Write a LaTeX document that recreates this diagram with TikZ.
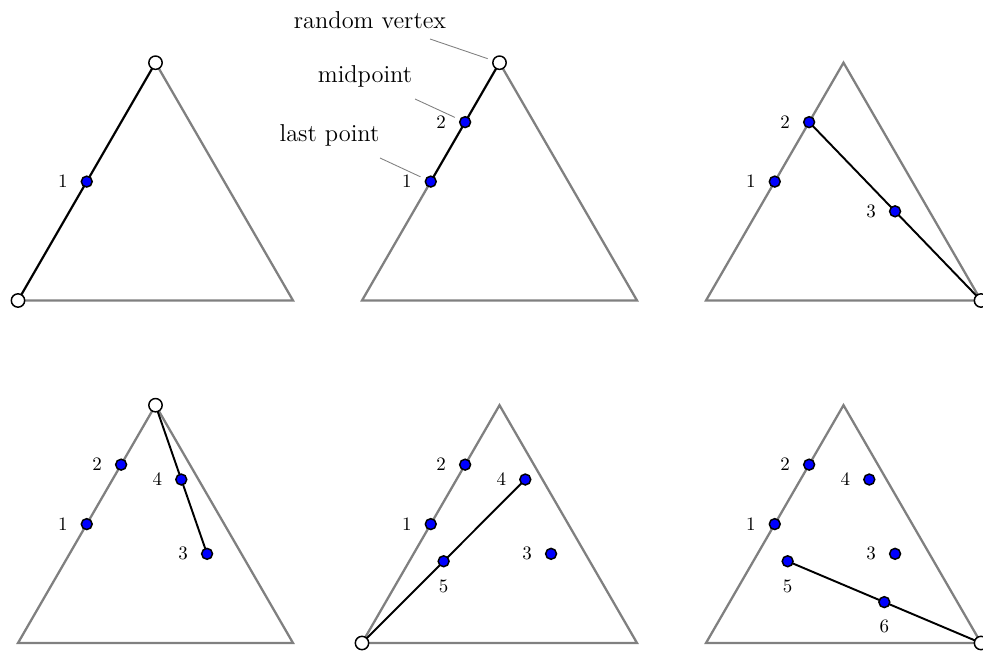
\documentclass[tikz,border=0pt]{standalone}
\usetikzlibrary{calc}
\pgfdeclarelayer{background}
\pgfsetlayers{background,main}
\newcommand\mktri[3]{%
  \coordinate (#1L) at ({18+#2},{300.5+#3});
  \coordinate (#1A) at ({155.5+#2},{62.7+#3});
  \coordinate (#1R) at ({293+#2},{300.5+#3});
  \coordinate (#1P1) at ($(#1L)!0.5!(#1A)$);
  \coordinate (#1P2) at ($(#1P1)!0.5!(#1A)$);
  \coordinate (#1P3) at ($(#1P2)!0.5!(#1R)$);
  \coordinate (#1P4) at ($(#1P3)!0.5!(#1A)$);
  \coordinate (#1P5) at ($(#1P4)!0.5!(#1L)$);
  \coordinate (#1P6) at ($(#1P5)!0.5!(#1R)$);
}
\newcommand\bluept[4]{%
  \node[bdot] (#1#2) at (#1P#2) {};
  \node[lab] (#1#2l) at ($(#1P#2)+(#3,#4)$) {#2};
}
\tikzset{
  tri/.style={draw=gray, line width=1.3pt},
  seg/.style={draw=black, line width=1.1pt},
  bdot/.style={circle, draw=black, fill=blue, line width=0.85pt, minimum size=6.2pt, inner sep=0pt},
  vtx/.style={circle, draw=black, fill=white, line width=0.85pt, minimum size=7.6pt, inner sep=0pt},
  lab/.style={inner sep=0pt, font=\fontsize{10.8}{13}\selectfont},
  ann/.style={inner sep=0pt, anchor=base, font=\fontsize{13.9}{16}\selectfont},
  leader/.style={draw=gray, line width=0.5pt, shorten >=2.9pt},
}
\begin{document}
\begin{tikzpicture}[x=0.02cm, y=-0.02cm]
\useasboundingbox (0,0) rectangle (983,651);
\mktri{a}{0}{0}
\mktri{b}{344}{0}
\mktri{c}{688}{0}
\mktri{d}{0}{342.5}
\mktri{e}{344}{342.5}
\mktri{f}{688}{342.5}
% panel a
\bluept{a}{1}{-24}{0}
\node[vtx] (aVL) at (aL) {};
\node[vtx] (aVA) at (aA) {};
% panel b
\bluept{b}{1}{-24}{0}
\bluept{b}{2}{-24}{0}
\node[vtx] (bV) at (bA) {};
\node[ann] (rv) at (370,29) {random vertex};
\node[ann] (mp) at (365,82.7) {midpoint};
\node[ann] (lp) at (329.5,141.7) {last point};
\coordinate (rvs) at (430,39);
\coordinate (mps) at (415,99);
\coordinate (lps) at (380,158);
% panel c
\bluept{c}{1}{-24}{0}
\bluept{c}{2}{-24}{0}
\bluept{c}{3}{-24}{0}
\node[vtx] (cV) at (cR) {};
% panel d
\bluept{d}{1}{-24}{0}
\bluept{d}{2}{-24}{0}
\bluept{d}{3}{-24}{0}
\bluept{d}{4}{-24}{0}
\node[vtx] (dV) at (dA) {};
% panel e
\bluept{e}{1}{-24}{0}
\bluept{e}{2}{-24}{0}
\bluept{e}{3}{-24}{0}
\bluept{e}{4}{-24}{0}
\bluept{e}{5}{0}{25}
\node[vtx] (eV) at (eL) {};
% panel f
\bluept{f}{1}{-24}{0}
\bluept{f}{2}{-24}{0}
\bluept{f}{3}{-24}{0}
\bluept{f}{4}{-24}{0}
\bluept{f}{5}{0}{25}
\bluept{f}{6}{0}{24}
\node[vtx] (fV) at (fR) {};
\begin{pgfonlayer}{background}
  \foreach \p in {a,b,c,d,e,f}{
    \draw[tri] (\p L) -- (\p A) -- (\p R) -- cycle;
  }
  \draw[seg] (aVL.center) -- (aVA.center);
  \draw[seg] (b1.center) -- (bV.center);
  \draw[seg] (c2.center) -- (cV.center);
  \draw[seg] (dV.center) -- (d3.center);
  \draw[seg] (eV.center) -- (e4.center);
  \draw[seg] (fV.center) -- (f5.center);
\end{pgfonlayer}
\draw[leader] (rvs) -- (bV);
\draw[leader] (mps) -- (b2);
\draw[leader] (lps) -- (b1);
\end{tikzpicture}
\end{document}
